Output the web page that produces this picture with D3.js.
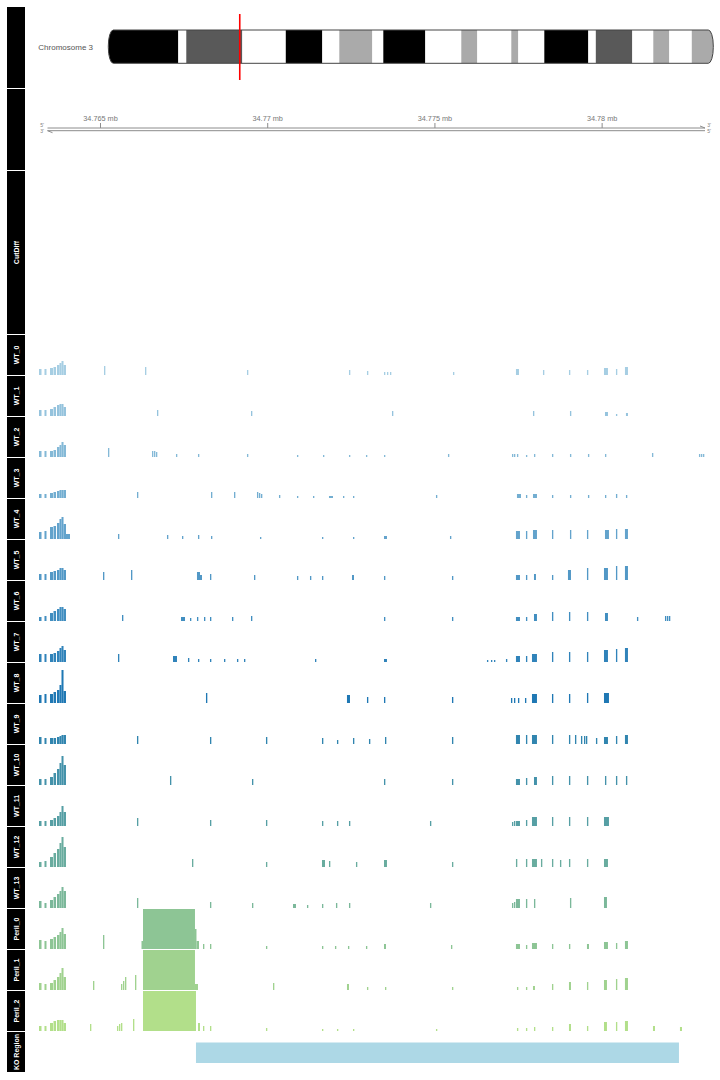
<!DOCTYPE html>
<html><head><meta charset="utf-8">
<script src="https://cdn.jsdelivr.net/npm/d3@7"></script>
<style>body{margin:0;background:#fff}svg{display:block}</style>
</head><body><svg id="c" width="720" height="1080"></svg>
<script>
// ---------------- DATA ----------------
const chromName = "Chromosome 3";
const chromLengthMb = 160.04;
const bandEndsMb = [18.52,20.63,35.45,46.95,56.61,61.11,69.84,72.75,83.86,93.38,97.61,106.61,108.46,115.34,126.98,128.96,138.61,144.17,148.40,154.35,160.04];
const bandStains = ["gpos100","gneg","gpos75","gneg","gpos100","gneg","gpos50","gneg","gpos100","gneg","gpos50","gneg","gpos50","gneg","gpos100","gneg","gpos75","gneg","gpos50","gneg","gpos50"];

const regionKb = [34763.206, 34783.30];
const tickKb = [34765, 34770, 34775, 34780];
const tickLabels = ["34.765 mb","34.77 mb","34.775 mb","34.78 mb"];

const topTracks = ["", "", "CutDiff"];
const dataTrackNames = ["WT_0","WT_1","WT_2","WT_3","WT_4","WT_5","WT_6","WT_7","WT_8","WT_9","WT_10","WT_11","WT_12","WT_13","Peril_0","Peril_1","Peril_2"];
const koName = "KO Region";
const koRegionKb = [34767.870, 34782.312];

// shared 3' cluster bins (kb)
const clusterStarts = [34763.176,34763.340,34763.505,34763.610,34763.714,34763.789,34763.849,34763.909];
const clusterEnds   = [34763.251,34763.400,34763.595,34763.685,34763.789,34763.849,34763.909,34763.983];
const clusterHeights = [
  [6,6,7,8,10,12,14,10],
  [6,6,7,9,11,12,12,9],
  [6,6,6,7,10,12,15,12],
  [4,4,5,6,7,8,8,8],
  [7,8,12,13,16,20,22,15],
  [6,6,8,9,10,12,12,10],
  [4,5,8,10,12,14,14,12],
  [8,8,8,9,11,14,16,12],
  [8,9,9,11,13,18,33,12],
  [7,6,6,6,7,8,9,9],
  [6,6,8,12,16,22,29,20],
  [5,5,6,8,10,14,20,14],
  [5,6,10,14,18,24,30,20],
  [7,5,8,11,14,17,21,17],
  [9,8,10,12,14,17,21,15],
  [7,6,7,10,13,17,22,13],
  [5,5,8,10,11,11,11,8]
];

// other coverage: [startKb, coverage, endKb?]
const wt0 = [[34765.120,9],[34766.346,8],[34769.395,5],[34772.445,5],[34772.983,4],[34773.492,3],[34773.581,3],[34773.671,3],[34775.555,3],[34777.438,6,34777.528],[34778.246,5],[34779.023,5],[34779.561,5],[34780.070,7,34780.189],[34780.428,6],[34780.697,8,34780.787]];
const wt1 = [[34766.704,6],[34769.515,5],[34773.731,5],[34777.947,5],[34779.053,5],[34780.100,4,34780.189],[34780.428,2],[34780.727,3,34780.787]];
const wt2 = [[34765.239,9],[34766.555,6],[34766.615,6],[34766.674,5],[34767.272,3],[34767.930,3],[34769.395,3],[34770.890,2],[34771.668,2],[34772.445,2],[34772.953,2],[34773.492,2],[34775.405,3],[34777.319,3],[34777.379,3],[34777.468,3],[34777.737,2],[34777.977,3],[34778.515,3],[34779.053,3],[34779.591,3],[34780.100,3],[34781.505,4],[34782.910,3],[34782.970,3],[34783.030,3]];
const wt3 = [[34766.106,6],[34768.319,6],[34769.007,6],[34769.694,6],[34769.754,5],[34769.814,4],[34770.352,3],[34770.890,2],[34771.369,2],[34771.847,2,34771.967],[34772.266,2],[34772.565,2],[34775.046,3],[34777.468,4,34777.588],[34777.737,3],[34777.947,4,34778.066],[34778.515,3],[34779.053,3],[34779.591,3],[34780.100,3],[34780.428,4],[34780.727,3]];
const wt4 = [[34763.983,5,34764.103],[34765.538,5],[34767.003,4],[34767.452,3],[34767.930,4],[34768.319,3],[34769.784,2],[34771.638,2],[34772.565,2],[34773.492,3,34773.581],[34775.465,3],[34777.438,8,34777.558],[34777.737,8],[34777.947,9,34778.066],[34778.515,9],[34779.053,9],[34779.561,9],[34780.100,9,34780.219],[34780.428,10],[34780.697,10,34780.787]];
const wt5 = [[34765.090,8],[34765.927,10],[34767.900,8,34767.990],[34767.990,5,34768.050],[34768.289,6],[34769.605,5],[34770.890,4],[34771.279,4],[34771.638,4],[34772.535,5,34772.595],[34773.492,4],[34775.525,4],[34777.438,5,34777.558],[34777.737,5],[34777.977,6,34778.036],[34778.515,5],[34778.993,10,34779.083],[34779.561,12],[34780.070,12,34780.189],[34780.428,14],[34780.697,14,34780.787]];
const wt6 = [[34765.658,6],[34767.422,4,34767.542],[34767.691,3],[34767.900,4],[34768.110,4],[34768.289,4],[34768.947,4],[34769.515,5],[34773.492,4],[34775.525,4],[34777.438,4,34777.558],[34777.737,4],[34777.977,7,34778.066],[34778.515,9],[34779.023,9],[34779.561,9],[34780.100,8,34780.189],[34781.056,4],[34781.894,5],[34781.954,5],[34782.013,5]];
const wt7 = [[34765.538,8],[34767.183,6,34767.302],[34767.631,4],[34767.930,3],[34768.289,3],[34768.708,3],[34769.096,3],[34769.306,3],[34771.429,3],[34773.492,3,34773.581],[34776.571,2],[34776.691,2],[34776.781,2],[34777.139,3],[34777.438,6,34777.558],[34777.737,6],[34777.917,8,34778.066],[34778.515,10],[34779.023,10],[34779.561,10],[34780.070,12,34780.189],[34780.428,13],[34780.697,14,34780.787]];
const wt8 = [[34768.169,10],[34772.385,8,34772.475],[34772.983,6],[34773.492,6],[34775.525,6],[34777.289,5],[34777.379,5],[34777.498,5],[34777.708,5],[34777.917,9,34778.066],[34778.515,9],[34779.023,9],[34779.561,10],[34780.070,10,34780.219]];
const wt9 = [[34766.106,8],[34768.289,7],[34769.963,7],[34771.638,6],[34772.086,4],[34772.565,6],[34773.043,5],[34773.522,7],[34775.525,7],[34777.438,9,34777.558],[34777.737,9],[34777.917,9,34778.066],[34778.515,9],[34779.023,9],[34779.203,9],[34779.382,8],[34779.472,8],[34779.531,8],[34779.830,6],[34780.070,7,34780.189],[34780.428,8],[34780.697,9,34780.787]];
const wt10 = [[34767.093,9],[34769.545,6],[34773.492,6],[34775.525,6],[34777.438,6,34777.558],[34777.737,7],[34777.977,8,34778.066],[34778.515,9],[34779.023,9],[34779.561,9],[34780.100,9],[34780.428,9],[34780.727,9]];
const wt11 = [[34766.106,8],[34768.289,6],[34769.963,6],[34771.638,5],[34772.086,5],[34772.445,5],[34774.867,5],[34777.319,4],[34777.379,5],[34777.438,5,34777.558],[34777.737,6],[34777.917,9,34778.066],[34778.515,9],[34779.023,9],[34779.561,9],[34780.070,9,34780.219]];
const wt12 = [[34767.751,8],[34769.963,5],[34771.638,7,34771.728],[34771.847,6],[34772.654,5],[34773.492,7,34773.581],[34775.525,5],[34777.438,8],[34777.737,8],[34777.917,8,34778.066],[34778.186,8],[34778.515,8],[34778.754,7],[34779.023,8],[34779.561,8],[34780.070,8,34780.189]];
const wt13 = [[34766.106,10],[34768.289,6],[34769.545,5],[34770.771,4,34770.860],[34771.189,3],[34771.638,4],[34772.056,5],[34772.445,5],[34774.867,5],[34777.319,5],[34777.379,6],[34777.438,9,34777.558],[34777.737,9],[34777.977,9],[34779.053,10],[34780.070,11,34780.159]];
const peril0 = [[34765.090,14],[34766.241,8,34766.286],[34766.286,60,34767.840],[34767.840,20,34767.885],[34767.885,8,34767.960],[34768.080,5],[34768.289,5],[34769.963,3],[34771.638,3],[34772.026,3],[34772.415,3],[34772.953,3],[34773.492,5,34773.551],[34775.495,4],[34777.438,5,34777.558],[34777.737,4],[34777.917,6,34778.066],[34778.515,5],[34779.023,5],[34779.561,5,34779.621],[34780.070,7,34780.189],[34780.428,6],[34780.697,8,34780.787]];
const peril1 = [[34764.791,9],[34765.628,6],[34765.688,9],[34765.748,13],[34766.047,15],[34766.286,60,34767.840],[34767.840,6,34767.930],[34770.173,7],[34772.385,6,34772.445],[34772.983,3],[34773.522,3],[34775.525,3],[34777.468,3],[34777.737,3],[34777.947,4,34778.006],[34778.515,6],[34779.023,8,34779.083],[34779.561,8],[34780.070,10,34780.159],[34780.428,11],[34780.697,12,34780.787]];
const peril2 = [[34764.701,7],[34765.508,5],[34765.568,7],[34765.628,8],[34765.987,12],[34766.286,60,34767.870],[34767.930,8,34767.990],[34768.080,5],[34768.289,5],[34769.963,3],[34771.638,2],[34772.086,2],[34772.565,2],[34775.046,2],[34777.468,3],[34777.737,3],[34777.977,4],[34778.515,4],[34779.023,7,34779.083],[34779.561,5],[34780.070,9,34780.159],[34780.428,9],[34780.697,10,34780.787],[34781.535,5,34781.595],[34782.342,4,34782.402]];
const coverageSeries = [wt0,wt1,wt2,wt3,wt4,wt5,wt6,wt7,wt8,wt9,wt10,wt11,wt12,wt13,peril0,peril1,peril2];
const yMax = 40;
const paletteStops = ["#a6cee3","#1f78b4","#b2df8a"];

// ---------------- DRAW ----------------
const svg = d3.select("#c");
svg.append("rect").attr("width",720).attr("height",1080).attr("fill","#fff");
const font = "'Liberation Sans', Arial, sans-serif";

const sizes = [82,82,164].concat(dataTrackNames.map(()=>41)).concat([41]);
const names = topTracks.concat(dataTrackNames).concat([koName]);
const tops = [];
let acc = 6.5;
sizes.forEach(s => { tops.push(acc); acc += s; });

// title panel
names.forEach((n,i)=>{
  svg.append("rect").attr("x",7).attr("y",tops[i]+0.5).attr("width",18).attr("height",sizes[i]-1)
    .attr("fill","#000");
  if (n) {
    const cy = tops[i] + sizes[i]/2;
    svg.append("text").attr("transform",`translate(18.5,${cy}) rotate(-90)`)
      .attr("text-anchor","middle").attr("font-family",font).attr("font-weight","bold")
      .attr("font-size",7).attr("fill","#fff").text(n);
  }
});

const x = d3.scaleLinear().domain(regionKb).range([40,712]);

// ideogram
const ideo = d3.scaleLinear().domain([0,chromLengthMb]).range([108.3,713.3]);
const stainCol = {gneg:"#ffffff",gpos25:"#d9d9d9",gpos50:"#aaaaaa",gpos75:"#595959",gpos100:"#000000"};
const iy = 30, ih = 33.3;
const defs = svg.append("defs");
defs.append("clipPath").attr("id","chrclip").append("rect")
  .attr("x",ideo(0)).attr("y",iy).attr("width",ideo(chromLengthMb)-ideo(0)).attr("height",ih)
  .attr("rx",5).attr("ry",16);
const gI = svg.append("g").attr("clip-path","url(#chrclip)");
bandEndsMb.forEach((e,i)=>{
  const s = i===0?0:bandEndsMb[i-1];
  gI.append("rect").attr("x",ideo(s)).attr("y",iy).attr("width",ideo(e)-ideo(s)).attr("height",ih)
    .attr("fill",stainCol[bandStains[i]]);
});
svg.append("rect").attr("x",ideo(0)).attr("y",iy).attr("width",ideo(chromLengthMb)-ideo(0)).attr("height",ih)
  .attr("rx",5).attr("ry",16).attr("fill","none").attr("stroke","#444").attr("stroke-width",1);
const rx0 = ideo(regionKb[0]/1000), rx1 = ideo(regionKb[1]/1000);
svg.append("rect").attr("x",(rx0+rx1)/2-0.8).attr("y",14).attr("width",Math.max(1.6,rx1-rx0)).attr("height",66)
  .attr("fill","#ff0000");
svg.append("text").attr("x",93).attr("y",49.5).attr("text-anchor","end").attr("font-family",font)
  .attr("font-size",8).attr("fill","#555").text(chromName);

// genome axis
const axCol = "#8c8c8c";
const ay = 128, ay2 = 130.7;
const axL = 47.5, axR = 705;
svg.append("line").attr("x1",axL).attr("x2",axR).attr("y1",ay).attr("y2",ay).attr("stroke",axCol).attr("stroke-width",1);
svg.append("line").attr("x1",axL).attr("x2",axR).attr("y1",ay2).attr("y2",ay2).attr("stroke",axCol).attr("stroke-width",1);
svg.append("line").attr("x1",axL).attr("x2",axL+5).attr("y1",ay2).attr("y2",ay2+2).attr("stroke",axCol);
svg.append("line").attr("x1",axR).attr("x2",axR-5).attr("y1",ay).attr("y2",ay-2).attr("stroke",axCol);
[["5'",42,127],["3'",42,132.5],["3'",709,127],["5'",709,132.5]].forEach(d=>{
  svg.append("text").attr("x",d[1]).attr("y",d[2]).attr("text-anchor","middle").attr("font-family",font)
    .attr("font-size",5).attr("fill","#808080").text(d[0]);
});
const axisG = svg.append("g").attr("transform",`translate(0,${ay})`);
const axis = d3.axisTop(x).tickValues(tickKb).tickFormat((d,i)=>tickLabels[i]).tickSize(5).tickSizeOuter(0);
axisG.call(axis);
axisG.select(".domain").remove();
axisG.selectAll(".tick line").attr("stroke",axCol);
axisG.selectAll(".tick text").attr("font-family",font).attr("font-size",7.3).attr("fill","#777").attr("dy","-0.1em").attr("y",-6);

// data tracks
const colorAt = d3.piecewise(d3.interpolateRgb, paletteStops);
dataTrackNames.forEach((n,i)=>{
  const ti = i+3;
  const top = tops[ti]+0.5;
  const y = d3.scaleLinear().domain([0,yMax]).range([top+40, top]);
  const col = colorAt(i/(dataTrackNames.length-1));
  defs.append("clipPath").attr("id","cl"+i).append("rect").attr("x",28).attr("y",top).attr("width",692).attr("height",40);
  const g = svg.append("g").attr("clip-path",`url(#cl${i})`);
  const bars = clusterStarts.map((s,k)=>[s,clusterHeights[i][k],clusterEnds[k]]).concat(coverageSeries[i]);
  g.selectAll("rect").data(bars).join("rect")
    .attr("x",d=>x(d[0]))
    .attr("width",d=>Math.max(1.1, x(d[2]!==undefined?d[2]:d[0]+0.04)-x(d[0])))
    .attr("y",d=>y(d[1]))
    .attr("height",d=>y(0)-y(d[1]))
    .attr("fill",col);
});

// KO region
const kTop = tops[tops.length-1]+0.5;
svg.append("rect").attr("x",x(koRegionKb[0])).attr("y",kTop+10.5).attr("width",x(koRegionKb[1])-x(koRegionKb[0]))
  .attr("height",20.5).attr("fill","#add8e6");
</script></body></html>
